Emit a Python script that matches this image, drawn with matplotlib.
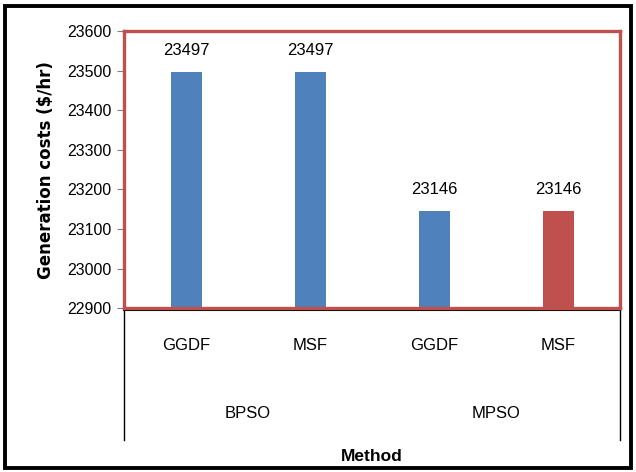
import matplotlib.pyplot as plt
from matplotlib.lines import Line2D
from matplotlib.patches import Rectangle

methods = ["GGDF", "MSF", "GGDF", "MSF"]
groups = ["BPSO", "MPSO"]
costs = [23497, 23497, 23146, 23146]
bar_colors = ["#4F81BD", "#4F81BD", "#4F81BD", "#C0504D"]

RED = "#C0504D"
plt.rcParams["font.family"] = ["Liberation Sans", "DejaVu Sans"]

fig = plt.figure(figsize=(6.36, 4.72), dpi=100)
ax = fig.add_axes([0.195, 0.347, 0.78, 0.587])

x = range(len(costs))
ax.bar(x, costs, width=0.25, color=bar_colors, zorder=2)
for xi, v in zip(x, costs):
    ax.annotate(f"{v}", (xi, v), xytext=(0, 10), textcoords="offset points",
                ha="center", va="bottom", fontsize=12)

ax.set_xlim(-0.5, len(costs) - 0.5)
ax.set_ylim(22900, 23600)
ax.set_yticks(range(22900, 23601, 100))
ax.tick_params(axis="y", labelsize=11.5, length=5, color="#808080", pad=4)
ax.set_xticks([])
for s in ax.spines.values():
    s.set_color(RED)
    s.set_linewidth(2.4)

ax.set_ylabel("Generation costs ($/hr)", fontsize=12, fontweight="bold",
              family="DejaVu Sans", labelpad=9)

# category axis below the plot
tr = ax.get_xaxis_transform()
for xi, m in zip(x, methods):
    ax.text(xi, -0.135, m, transform=tr, ha="center", va="center", fontsize=12, clip_on=False)
for gi, g in enumerate(groups):
    ax.text(gi * 2 + 0.5, -0.38, g, transform=tr, ha="center", va="center", fontsize=12, clip_on=False)
ax.add_line(Line2D([-0.5, len(costs) - 0.5], [-0.006, -0.006], transform=tr, color="black",
                   lw=1.5, clip_on=False))
for xe in (-0.5, len(costs) - 0.5):
    ax.add_line(Line2D([xe, xe], [0, -0.475], transform=tr, color="black", lw=1.0, clip_on=False))

fig.text(0.585, 0.033, "Method", ha="center", va="center", fontsize=12.5, fontweight="bold")

# outer frame of the chart
fig.add_artist(Rectangle((0.008, 0.009), 0.984, 0.978, transform=fig.transFigure,
                         fill=False, edgecolor="black", lw=2.8))

fig.savefig("out.png", dpi=100)
